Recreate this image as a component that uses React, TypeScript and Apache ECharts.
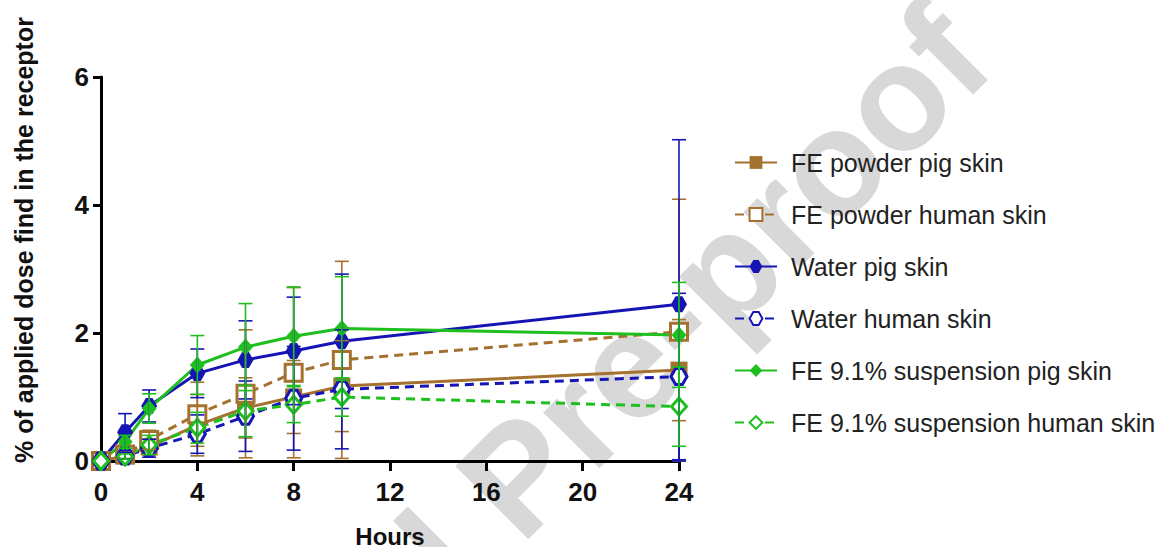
import React, { useEffect, useRef } from "react";
import * as echarts from "echarts";

const hours = [0, 1, 2, 4, 6, 8, 10, 24];
const xTicks = [0, 4, 8, 12, 16, 20, 24];
const yTicks = [0, 2, 4, 6];

const powderPigMean = [0, 0.08, 0.22, 0.56, 0.83, 1.0, 1.17, 1.42];
const powderPigSd = [0, 0.05, 0.12, 0.48, 0.47, 0.57, 0.71, 0.79];
const powderHumanMean = [0, 0.1, 0.33, 0.73, 1.05, 1.38, 1.58, 2.02];
const powderHumanSd = [0, 0.06, 0.15, 0.5, 1.0, 1.33, 1.54, 2.07];
const waterPigMean = [0, 0.45, 0.86, 1.37, 1.58, 1.72, 1.87, 2.45];
const waterPigSd = [0, 0.29, 0.25, 0.38, 0.61, 0.84, 1.05, 2.57];
const waterHumanMean = [0, 0.08, 0.2, 0.42, 0.7, 0.98, 1.12, 1.32];
const waterHumanSd = [0, 0.05, 0.14, 0.3, 0.55, 0.81, 0.93, 1.3];
const suspPigMean = [0, 0.3, 0.82, 1.5, 1.78, 1.95, 2.07, 1.97];
const suspPigSd = [0, 0.1, 0.23, 0.46, 0.68, 0.77, 0.81, 0.82];
const suspHumanMean = [0, 0.07, 0.25, 0.52, 0.78, 0.88, 1.0, 0.85];
const suspHumanSd = [0, 0.04, 0.15, 0.24, 0.4, 0.28, 0.3, 0.62];

const seriesNames = [
  "FE powder pig skin",
  "FE powder human skin",
  "Water pig skin",
  "Water human skin",
  "FE 9.1% suspension pig skin",
  "FE 9.1% suspension human skin",
];

const BROWN = "#A4712E";
const BLUE = "#1515B5";
const GREEN = "#1FBF1F";
const HEX = "path://M0,5L2.9,0L7.1,0L10,5L7.1,10L2.9,10Z";
const FONT = 'Arial, "Liberation Sans", sans-serif';

type Def = {
  name: string;
  mean: number[];
  sd: number[];
  color: string;
  symbol: string;
  size: number | number[];
  open: boolean;
};

const defs: Def[] = [
  { name: seriesNames[0], mean: powderPigMean, sd: powderPigSd, color: BROWN, symbol: "rect", size: 17, open: false },
  { name: seriesNames[1], mean: powderHumanMean, sd: powderHumanSd, color: BROWN, symbol: "rect", size: 17, open: true },
  { name: seriesNames[2], mean: waterPigMean, sd: waterPigSd, color: BLUE, symbol: HEX, size: 16, open: false },
  { name: seriesNames[3], mean: waterHumanMean, sd: waterHumanSd, color: BLUE, symbol: HEX, size: 16, open: true },
  { name: seriesNames[4], mean: suspPigMean, sd: suspPigSd, color: GREEN, symbol: "diamond", size: [15, 17], open: false },
  { name: seriesNames[5], mean: suspHumanMean, sd: suspHumanSd, color: GREEN, symbol: "diamond", size: [15, 17], open: true },
];

export default function App() {
  const ref = useRef<HTMLDivElement>(null);
  useEffect(() => {
    if (!ref.current) return;
    const chart = echarts.init(ref.current, null, { renderer: "svg" });

    const lineSeries = defs.map((d) => ({
      type: "line",
      name: d.name,
      data: hours.map((h, i) => [h, d.mean[i]]),
      symbol: d.symbol,
      symbolSize: d.size,
      showAllSymbol: true,
      z: 2,
      lineStyle: { color: d.color, width: 3, type: d.open ? [9, 6] : "solid" },
      itemStyle: d.open
        ? { color: "#ffffff", borderColor: d.color, borderWidth: 3 }
        : { color: d.color, borderColor: d.color, borderWidth: 0 },
    }));

    const errSeries = defs.map((d) => ({
      type: "custom",
      name: d.name + " SD",
      z: 3,
      clip: false,
      data: hours
        .map((h, i) => [h, Math.max(0, d.mean[i] - d.sd[i]), d.mean[i] + d.sd[i], d.sd[i]])
        .filter((r) => r[3] > 0),
      renderItem: (params: any, api: any) => {
        const x = api.value(0);
        const lo = api.value(1);
        const hi = api.value(2);
        const top = api.coord([x, hi]);
        const bot = api.coord([x, lo]);
        const hw = 7;
        const st = { stroke: d.color, lineWidth: 1.6 };
        return {
          type: "group",
          children: [
            { type: "line", shape: { x1: top[0], y1: top[1], x2: bot[0], y2: bot[1] }, style: st },
            { type: "line", shape: { x1: top[0] - hw, y1: top[1], x2: top[0] + hw, y2: top[1] }, style: st },
            { type: "line", shape: { x1: bot[0] - hw, y1: bot[1], x2: bot[0] + hw, y2: bot[1] }, style: st },
          ],
        };
      },
    }));

    chart.setOption({
      animation: false,
      backgroundColor: "#ffffff",
      textStyle: { fontFamily: FONT },
      grid: { left: 101, right: 483, top: 77, bottom: 86, containLabel: false, outerBoundsMode: "none" },
      legend: {
        orient: "vertical",
        left: 729,
        top: 145,
        itemWidth: 42,
        itemHeight: 16,
        itemGap: 27,
        data: seriesNames,
        selectedMode: false,
        textStyle: {
          fontFamily: FONT,
          fontSize: 25,
          color: "#222222",
          lineHeight: 24,
          padding: [0, 0, 0, 9],
        },
      },
      xAxis: {
        type: "value",
        min: 0,
        max: 24,
        interval: 4,
        name: "Hours",
        nameLocation: "middle",
        nameGap: 63,
        nameTextStyle: { fontFamily: FONT, fontSize: 24, fontWeight: "bold", color: "#111111" },
        splitLine: { show: false },
        axisLine: { onZero: false, lineStyle: { color: "#000000", width: 3 } },
        axisTick: { length: 10, lineStyle: { color: "#000000", width: 3 } },
        axisLabel: {
          margin: 18,
          fontFamily: FONT,
          fontSize: 26,
          fontWeight: "bold",
          color: "#111111",
          customValues: xTicks,
        },
      },
      yAxis: {
        type: "value",
        min: 0,
        max: 6,
        interval: 2,
        splitLine: { show: false },
        axisLine: { show: true, lineStyle: { color: "#000000", width: 3 } },
        axisTick: { show: true, length: 8, lineStyle: { color: "#000000", width: 3 } },
        axisLabel: {
          margin: 12,
          fontFamily: FONT,
          fontSize: 26,
          fontWeight: "bold",
          color: "#111111",
          customValues: yTicks,
        },
      },
      graphic: [
        {
          type: "group",
          x: 515,
          y: 540,
          rotation: Math.PI / 4,
          z: -10,
          silent: true,
          children: [
            {
              type: "text",
              x: 0,
              y: 32,
              style: {
                text: "Pre-proof",
                fontFamily: FONT,
                fontSize: 150,
                fontWeight: "bold",
                fill: "#d8d8d8",
                textAlign: "left",
                textVerticalAlign: "bottom",
              },
            },
            {
              type: "text",
              x: 0,
              y: 32,
              style: {
                text: "Journal ",
                fontFamily: FONT,
                fontSize: 150,
                fontWeight: "bold",
                fill: "#d8d8d8",
                textAlign: "right",
                textVerticalAlign: "bottom",
              },
            },
          ],
        },
        {
          type: "text",
          x: 24,
          y: 240,
          rotation: Math.PI / 2,
          style: {
            text: "% of applied dose find in the receptor",
            fontFamily: FONT,
            fontSize: 25,
            fontWeight: "bold",
            fill: "#111111",
            textAlign: "center",
            textVerticalAlign: "middle",
          },
        },
      ],
      series: [...lineSeries, ...errSeries],
    });
    return () => chart.dispose();
  }, []);
  return (
    <div
      ref={ref}
      style={{ position: "absolute", left: 0, top: 0, width: 1162, height: 547, background: "#fff" }}
    />
  );
}
